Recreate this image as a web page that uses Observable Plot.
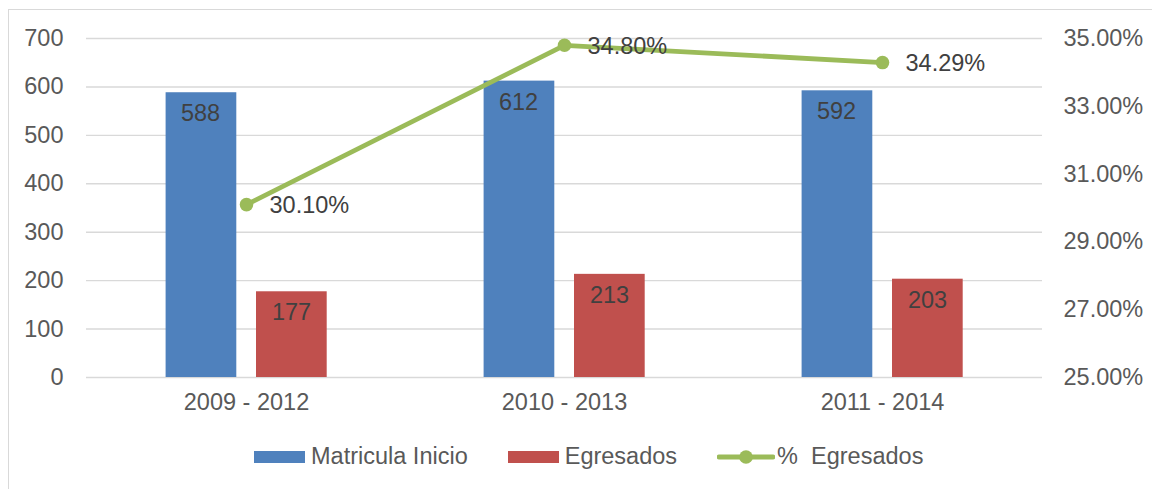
<!DOCTYPE html>
<html><head><meta charset="utf-8">
<script src="https://cdn.jsdelivr.net/npm/d3@7"></script>
<script src="https://cdn.jsdelivr.net/npm/@observablehq/plot@0.6"></script>
<style>
body{margin:0;background:#fff;font-family:"Liberation Sans",Arial,sans-serif;}
#wrap{position:relative;width:1152px;height:489px;overflow:hidden;background:#fff;}
#frame{position:absolute;left:8px;top:9px;width:1170px;height:500px;border:1px solid #d9d9d9;box-sizing:border-box;}
#chart{position:absolute;left:0;top:0;}
#legend{position:absolute;top:443px;left:254px;display:flex;align-items:center;font-size:23.5px;color:#595959;white-space:pre;}
#legend .item{display:flex;align-items:center;margin-right:40px;}
#legend .sw{display:inline-block;width:51px;height:12px;margin-right:6px;}
</style></head>
<body>
<div id="wrap">
<div id="frame"></div>
<div id="chart"></div>
<div id="legend"></div>
</div>
<script>
const categories = ["2009 - 2012", "2010 - 2013", "2011 - 2014"];
const matricula = [588, 612, 592];
const egresados = [177, 213, 203];
const pctEgresados = [30.10, 34.80, 34.29];
const leftTicks = [0, 100, 200, 300, 400, 500, 600, 700];
const rightTicks = [25, 27, 29, 31, 33, 35];
const seriesNames = ["Matricula Inicio", "Egresados", "%  Egresados"];
const colors = ["#4F81BD", "#C0504D", "#9BBB59"];

const rows = categories.map((c, i) => ({cat: c, matricula: matricula[i], egresados: egresados[i], pct: pctEgresados[i]}));
const pctMin = 25, pctMax = 35, leftMax = 700;
const toLeft = p => (p - pctMin) / (pctMax - pctMin) * leftMax;
const fromLeft = v => pctMin + v / leftMax * (pctMax - pctMin);

const FS = 23.5;
const chart = Plot.plot({
  width: 1152, height: 430,
  marginLeft: 86, marginRight: 110, marginTop: 38, marginBottom: 53,
  style: {fontFamily: "'Liberation Sans', Arial, sans-serif", fontSize: FS + "px", color: "#595959", background: "transparent"},
  x: {domain: categories, padding: 0, label: null},
  y: {domain: [0, leftMax], label: null},
  marks: [
    Plot.gridY(leftTicks, {stroke: "#d9d9d9", strokeOpacity: 1, strokeWidth: 1.4}),
    Plot.axisX({tickSize: 0, tickPadding: 16, label: null, fontSize: FS, fill: "#595959"}),
    Plot.axisY(leftTicks, {anchor: "left", tickSize: 0, tickPadding: 23, label: null, fontSize: FS, fill: "#595959"}),
    Plot.axisY(rightTicks.map(toLeft), {anchor: "right", tickSize: 0, tickPadding: 21, label: null, fontSize: FS, fill: "#595959",
      tickFormat: v => fromLeft(v).toFixed(2) + "%"}),
    Plot.barY(rows, {x: "cat", y: "matricula", fill: colors[0], insetLeft: 78.6, insetRight: 168.7}),
    Plot.barY(rows, {x: "cat", y: "egresados", fill: colors[1], insetLeft: 169, insetRight: 78.3}),
    Plot.text(rows, {x: "cat", y: "matricula", text: d => String(d.matricula), dx: -46, dy: 21, fill: "#404040", fontSize: FS}),
    Plot.text(rows, {x: "cat", y: "egresados", text: d => String(d.egresados), dx: 45, dy: 21, fill: "#404040", fontSize: FS}),
    Plot.line(rows, {x: "cat", y: d => toLeft(d.pct), stroke: colors[2], strokeWidth: 4.8}),
    Plot.dot(rows, {x: "cat", y: d => toLeft(d.pct), r: 6.8, fill: colors[2]}),
    Plot.text(rows, {x: "cat", y: d => toLeft(d.pct), text: d => d.pct.toFixed(2) + "%", dx: 23, dy: 1, textAnchor: "start", fill: "#404040", fontSize: FS})
  ]
});
document.getElementById("chart").appendChild(chart);

const legend = document.getElementById("legend");
seriesNames.forEach((name, i) => {
  const item = document.createElement("span");
  item.className = "item";
  if (i < 2) {
    const sw = document.createElement("span");
    sw.className = "sw";
    sw.style.background = colors[i];
    item.appendChild(sw);
  } else {
    const ns = "http://www.w3.org/2000/svg";
    const svg = document.createElementNS(ns, "svg");
    svg.setAttribute("width", 58); svg.setAttribute("height", 16);
    svg.style.marginRight = "2px";
    const ln = document.createElementNS(ns, "line");
    ln.setAttribute("x1", 2); ln.setAttribute("x2", 56); ln.setAttribute("y1", 8); ln.setAttribute("y2", 8);
    ln.setAttribute("stroke", colors[i]); ln.setAttribute("stroke-width", 4.8); ln.setAttribute("stroke-linecap", "round");
    const c = document.createElementNS(ns, "circle");
    c.setAttribute("cx", 29); c.setAttribute("cy", 8); c.setAttribute("r", 6.8); c.setAttribute("fill", colors[i]);
    svg.appendChild(ln); svg.appendChild(c);
    item.appendChild(svg);
  }
  const t = document.createElement("span");
  t.textContent = name;
  item.appendChild(t);
  legend.appendChild(item);
});
</script>
</body></html>
